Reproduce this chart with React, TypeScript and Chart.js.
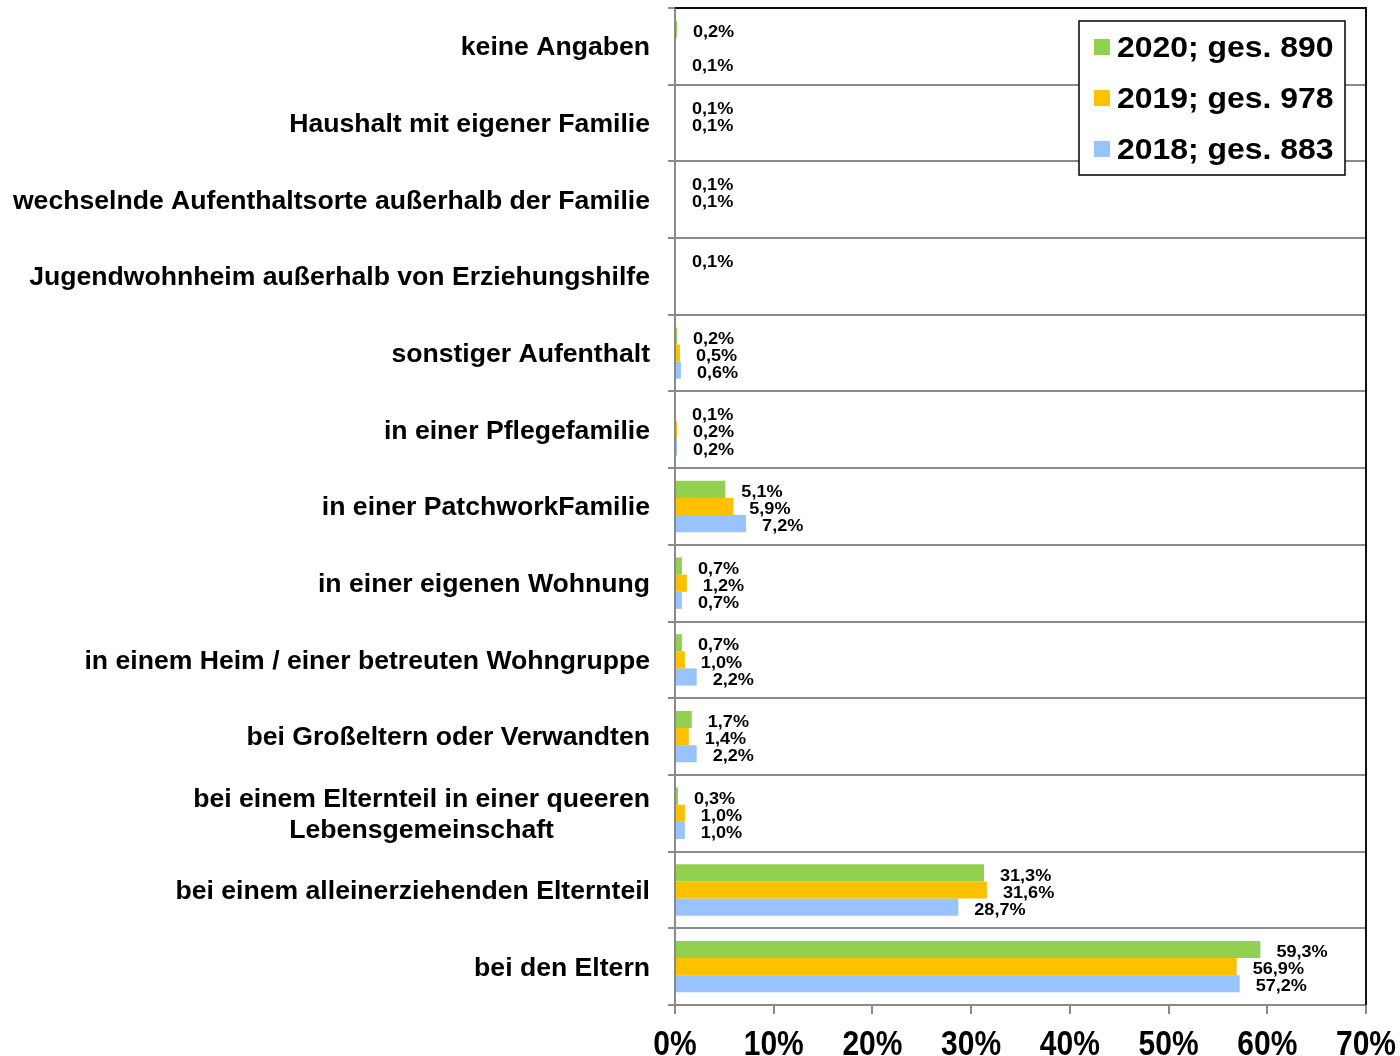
import React, { useEffect, useRef } from 'react';
import { Chart, registerables } from 'chart.js';
Chart.register(...registerables);

const categories: (string | string[])[] = [
  'keine Angaben',
  'Haushalt mit eigener Familie',
  'wechselnde Aufenthaltsorte außerhalb der Familie',
  'Jugendwohnheim außerhalb von Erziehungshilfe',
  'sonstiger Aufenthalt',
  'in einer Pflegefamilie',
  'in einer PatchworkFamilie',
  'in einer eigenen Wohnung',
  'in einem Heim / einer betreuten Wohngruppe',
  'bei Großeltern oder Verwandten',
  ['bei einem Elternteil in einer queeren', 'Lebensgemeinschaft'],
  'bei einem alleinerziehenden Elternteil',
  'bei den Eltern',
];

const seriesNames = ['2020; ges. 890', '2019; ges. 978', '2018; ges. 883'];
const values2020 = [0.2, 0.1, 0.1, 0.1, 0.2, 0.1, 5.1, 0.7, 0.7, 1.7, 0.3, 31.3, 59.3];
const values2019 = [null, 0.1, 0.1, null, 0.5, 0.2, 5.9, 1.2, 1.0, 1.4, 1.0, 31.6, 56.9];
const values2018 = [0.1, null, null, null, 0.6, 0.2, 7.2, 0.7, 2.2, 2.2, 1.0, 28.7, 57.2];
const xTicks = [0, 10, 20, 30, 40, 50, 60, 70];

const colors = ['#92D050', '#FFC000', '#99C3FF'];
const FONT = "'Liberation Sans', Arial, sans-serif";
const GRID = '#8a8a8a';
const SX = 1.064;

const fmt = (v: number) => v.toFixed(1).replace('.', ',') + '%';

function drawText(ctx: any, txt: string, x: number, y: number, sx: number, sy: number) {
  ctx.save();
  ctx.translate(x, y);
  ctx.scale(sx, sy);
  ctx.fillText(txt, 0, 0);
  ctx.restore();
}

const customPlugin = {
  id: 'custom',
  afterDatasetsDraw(chart: any) {
    const ctx = chart.ctx;
    ctx.save();
    ctx.fillStyle = '#000';
    ctx.font = `bold 17px ${FONT}`;
    ctx.textAlign = 'left';
    ctx.textBaseline = 'middle';
    chart.data.datasets.forEach((ds: any, di: number) => {
      const meta = chart.getDatasetMeta(di);
      meta.data.forEach((el: any, i: number) => {
        const v = ds.data[i];
        if (v === null || v === undefined) return;
        drawText(ctx, fmt(v), el.x + 16, el.y + 3, SX, 1);
      });
    });
    ctx.restore();
  },
  afterDraw(chart: any) {
    const ctx = chart.ctx;
    const ca = chart.chartArea;
    const yScale = chart.scales.y;
    const xScale = chart.scales.x;
    ctx.save();
    // top and right border
    ctx.strokeStyle = '#111';
    ctx.lineWidth = 2;
    ctx.beginPath();
    ctx.moveTo(ca.left, ca.top);
    ctx.lineTo(ca.right, ca.top);
    ctx.lineTo(ca.right, ca.bottom);
    ctx.stroke();

    // category labels
    ctx.fillStyle = '#000';
    ctx.font = `bold 25px ${FONT}`;
    ctx.textBaseline = 'middle';
    const xr = ca.left - 25;
    categories.forEach((lab, i) => {
      const y = yScale.getPixelForValue(i) + 2;
      if (Array.isArray(lab)) {
        const w = Math.max(...lab.map((l) => ctx.measureText(l).width)) * SX;
        ctx.textAlign = 'center';
        const lh = 31;
        lab.forEach((l, j) => {
          drawText(ctx, l, xr - w / 2, y + (j - (lab.length - 1) / 2) * lh, SX, 1);
        });
      } else {
        ctx.textAlign = 'right';
        drawText(ctx, lab, xr, y, SX, 1);
      }
    });

    // x tick labels
    ctx.font = `bold 30px ${FONT}`;
    ctx.textAlign = 'center';
    ctx.textBaseline = 'alphabetic';
    xTicks.forEach((t) => {
      drawText(ctx, t + '%', xScale.getPixelForValue(t), ca.bottom + 50, 1, 1.15);
    });

    // legend
    const lx = 1079, ly = 21, lw = 266, lhgt = 154;
    ctx.fillStyle = '#fff';
    ctx.fillRect(lx, ly, lw, lhgt);
    ctx.strokeStyle = '#000';
    ctx.lineWidth = 1.5;
    ctx.strokeRect(lx, ly, lw, lhgt);
    ctx.font = `bold 29px ${FONT}`;
    ctx.textAlign = 'left';
    ctx.textBaseline = 'middle';
    seriesNames.forEach((n, i) => {
      const cy = ly + 26 + i * 51;
      ctx.fillStyle = colors[i];
      ctx.fillRect(lx + 15, cy - 8, 16, 16);
      ctx.fillStyle = '#000';
      drawText(ctx, n, lx + 38, cy + 2, SX * 1.035, 1);
    });
    ctx.restore();
  },
};

export default function App() {
  const ref = useRef<HTMLCanvasElement | null>(null);
  useEffect(() => {
    if (!ref.current) return;
    const chart = new Chart(ref.current, {
      type: 'bar',
      data: {
        labels: categories as any,
        datasets: [
          { label: seriesNames[0], data: values2020 as any, backgroundColor: colors[0] },
          { label: seriesNames[1], data: values2019 as any, backgroundColor: colors[1] },
          { label: seriesNames[2], data: values2018 as any, backgroundColor: colors[2] },
        ],
      },
      options: {
        indexAxis: 'y',
        responsive: false,
        animation: false,
        datasets: { bar: { categoryPercentage: 0.67, barPercentage: 1.0 } },
        layout: { padding: { left: 0, right: 34, top: 8, bottom: 0 } },
        plugins: { legend: { display: false }, tooltip: { enabled: false } },
        scales: {
          x: {
            type: 'linear',
            min: 0,
            max: 70,
            afterBuildTicks: (s: any) => {
              s.ticks = xTicks.map((v) => ({ value: v }));
            },
            afterFit: (s: any) => {
              s.height = 51;
            },
            ticks: { display: false },
            grid: { drawOnChartArea: false, drawTicks: true, tickLength: 9, color: GRID, lineWidth: 2 },
            border: { color: GRID, width: 2 },
          },
          y: {
            type: 'category',
            afterFit: (s: any) => {
              s.width = 675;
            },
            ticks: { display: false },
            grid: { offset: true, color: GRID, lineWidth: 2, drawTicks: true, tickLength: 7 },
            border: { color: GRID, width: 2 },
          },
        },
      },
      plugins: [customPlugin],
    } as any);
    return () => chart.destroy();
  }, []);
  return (
    <div style={{ position: 'absolute', left: 0, top: 0, width: 1400, height: 1056 }}>
      <canvas ref={ref} width={1400} height={1056} />
    </div>
  );
}
